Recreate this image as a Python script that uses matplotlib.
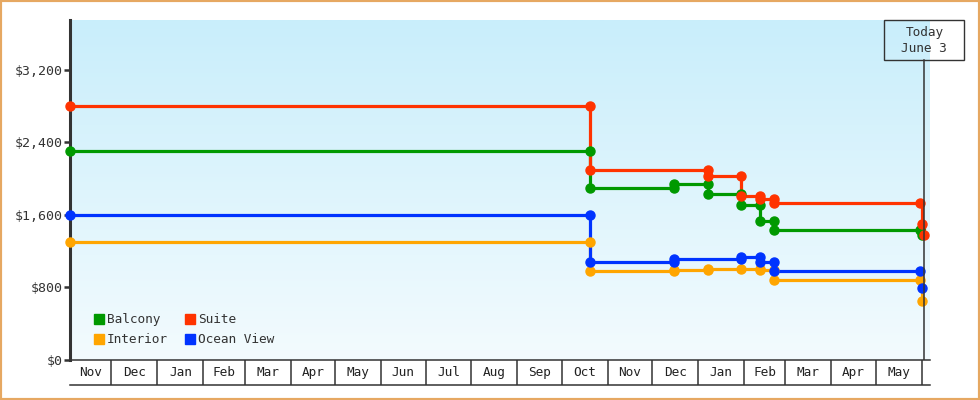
import matplotlib
matplotlib.use("Agg")
import matplotlib.pyplot as plt
import matplotlib.dates as mdates
import numpy as np
import pandas as pd
from matplotlib.patches import Rectangle, Patch
from matplotlib.colors import LinearSegmentedColormap
from matplotlib.ticker import FuncFormatter

# price observations (steps drawn between them)
suite_dates = ["2021-11-03", "2022-10-20", "2022-10-20", "2023-01-08", "2023-01-08",
               "2023-01-30", "2023-01-30", "2023-02-12", "2023-02-12", "2023-02-21",
               "2023-02-21", "2023-05-31", "2023-06-01 06:00", "2023-06-02 12:00"]
suite_prices = [2800, 2800, 2100, 2100, 2030, 2030, 1810, 1810, 1775, 1775,
                1735, 1735, 1500, 1375]

balcony_dates = ["2021-11-03", "2022-10-20", "2022-10-20", "2022-12-16", "2022-12-16",
                 "2023-01-08", "2023-01-08", "2023-01-30", "2023-01-30", "2023-02-12",
                 "2023-02-12", "2023-02-21", "2023-02-21", "2023-05-31", "2023-06-01"]
balcony_prices = [2300, 2300, 1895, 1895, 1940, 1940, 1830, 1830, 1705, 1705,
                  1530, 1530, 1430, 1430, 1380]

ocean_dates = ["2021-11-03", "2022-10-20", "2022-10-20", "2022-12-16", "2022-12-16",
               "2023-01-30", "2023-01-30", "2023-02-12", "2023-02-12", "2023-02-21",
               "2023-02-21", "2023-05-31", "2023-06-01 12:00"]
ocean_prices = [1600, 1600, 1080, 1080, 1115, 1115, 1140, 1140, 1080, 1080,
                985, 985, 790]

interior_dates = ["2021-11-03", "2022-10-20", "2022-10-20", "2022-12-16", "2022-12-16",
                  "2023-01-08", "2023-01-08", "2023-01-30", "2023-02-12", "2023-02-12",
                  "2023-02-21", "2023-02-21", "2023-05-31", "2023-06-01 12:00"]
interior_prices = [1300, 1300, 980, 980, 990, 990, 1000, 1000, 1000, 995,
                   995, 885, 885, 650]

month_labels = ["Nov", "Dec", "Jan", "Feb", "Mar", "Apr", "May", "Jun", "Jul", "Aug",
                "Sep", "Oct", "Nov", "Dec", "Jan", "Feb", "Mar", "Apr", "May"]
y_ticks = [0, 800, 1600, 2400, 3200]
today = "2023-06-02 18:00"
today_text = "Today\nJune 3"

series = [
    ("Interior", interior_dates, interior_prices, "#ffa500"),
    ("Balcony", balcony_dates, balcony_prices, "#009900"),
    ("Ocean View", ocean_dates, ocean_prices, "#0033ff"),
    ("Suite", suite_dates, suite_prices, "#ff3300"),
]
legend_order = ["Balcony", "Interior", "Suite", "Ocean View"]

FONT = "DejaVu Sans Mono"
FS = 9.2
DARK = "#333333"

fig = plt.figure(figsize=(9.8, 4.0), dpi=100)
ax = fig.add_axes([70 / 980, 40 / 400, 860 / 980, 340 / 400])

x0 = mdates.date2num(pd.Timestamp("2021-11-03"))
x1 = mdates.date2num(pd.Timestamp("2023-06-06 14:00"))
y_top = 3750

# background gradient
cmap = LinearSegmentedColormap.from_list("bg", ["#f3fbfe", "#c9eefb"])
ax.imshow(np.linspace(0, 1, 256).reshape(-1, 1), cmap=cmap, origin="lower",
          extent=[x0, x1, 0, y_top], aspect="auto", zorder=0)

for name, d, p, c in series:
    xs = mdates.date2num(pd.to_datetime(d, format="mixed"))
    ax.plot(xs, p, drawstyle="steps-post", color=c, lw=2.3, zorder=3, clip_on=False)
    ax.plot(xs, p, ls="none", marker="o", ms=6.5, color=c, zorder=4, clip_on=False)

ax.set_xlim(x0, x1)
ax.set_ylim(0, y_top)

# y axis
ax.set_yticks(y_ticks)
ax.yaxis.set_major_formatter(FuncFormatter(lambda v, pos: f"${v:,.0f}"))
ax.tick_params(axis="y", direction="out", length=4, width=1.8, color=DARK,
               labelcolor=DARK, labelsize=FS + 0.3, pad=1.5)
for lab in ax.get_yticklabels():
    lab.set_family(FONT)
for s in ["top", "right"]:
    ax.spines[s].set_visible(False)
ax.spines["left"].set_color(DARK)
ax.spines["left"].set_linewidth(2.2)
ax.spines["bottom"].set_color(DARK)
ax.spines["bottom"].set_linewidth(1.1)

# month row
ax.set_xticks([])
starts = pd.date_range("2021-12-01", "2023-06-01", freq="MS")
bounds = np.concatenate([[x0], mdates.date2num(starts)])
row_h = 25 / 340
ax.vlines(bounds[1:], -row_h, 0, transform=ax.get_xaxis_transform(),
          color=DARK, lw=1.1, clip_on=False)
ax.plot([0, 1], [-row_h, -row_h], transform=ax.transAxes, color=DARK, lw=1.1,
        clip_on=False)
for i, lab in enumerate(month_labels):
    ax.text((bounds[i] + bounds[i + 1]) / 2, -row_h / 2, lab, transform=ax.get_xaxis_transform(),
            ha="center", va="center", family=FONT, fontsize=FS, color="#222222")

# today marker
t = mdates.date2num(pd.Timestamp(today))
ax.axvline(t, ymin=0, ymax=300 / 340, color=DARK, lw=1.1, zorder=5)
tx = 70 + 860 * (t - x0) / (x1 - x0)
fig.add_artist(Rectangle(((tx - 40) / 980, 340 / 400), 80 / 980, 40 / 400,
                         transform=fig.transFigure, fill=False, ec=DARK, lw=1.0))
fig.text(tx / 980, 359.5 / 400, today_text, ha="center", va="center", family=FONT,
         fontsize=FS, color=DARK, linespacing=1.35)

# legend
colors = {name: c for name, _, _, c in series}
handles = [Patch(color=colors[n], label=n) for n in legend_order]
leg = ax.legend(handles=handles, ncol=2, loc="lower left", bbox_to_anchor=(0.02, 0.022),
                frameon=False, handlelength=0.85, handleheight=0.85, handletextpad=0.2,
                columnspacing=1.3, labelspacing=0.55, borderpad=0,
                prop={"family": FONT, "size": FS})
for txt in leg.get_texts():
    txt.set_color(DARK)

# outer border
fig.add_artist(Rectangle((0, 0), 1, 1, transform=fig.transFigure, fill=False,
                         ec="#e6a862", lw=3))

fig.savefig("out.png", dpi=100)
